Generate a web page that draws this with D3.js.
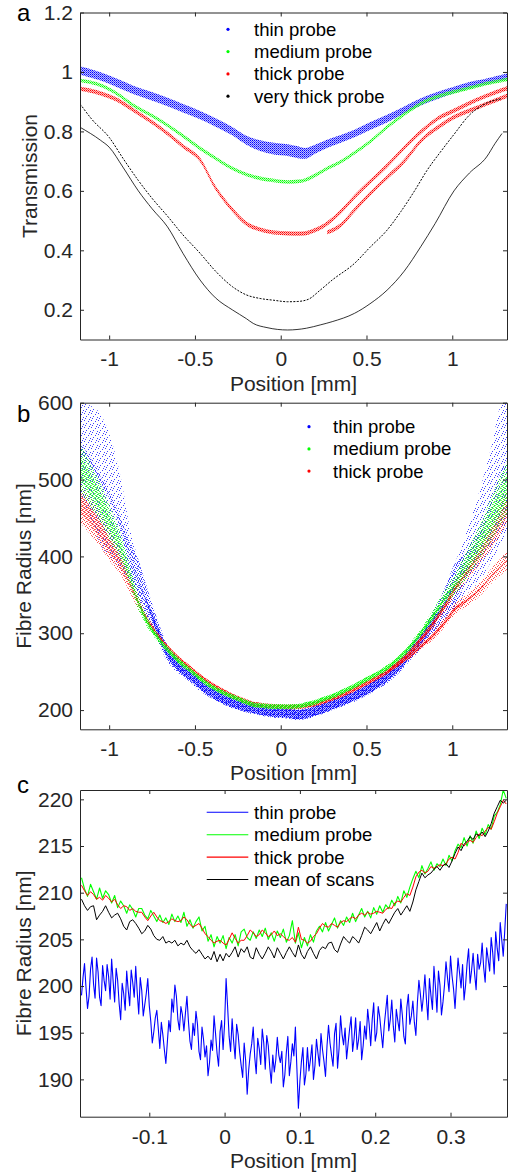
<!DOCTYPE html>
<html><head><meta charset="utf-8">
<script src="https://cdn.jsdelivr.net/npm/d3@7"></script>
<style>body{margin:0;background:#fff}svg{display:block}</style>
</head><body><svg id="c" width="508" height="1173"></svg>
<script>
// ---------------- DATA ----------------
// Panel a: Transmission vs position (mm)
const posA = [-1.17,-1.05,-0.95,-0.86,-0.76,-0.66,-0.57,-0.47,-0.38,-0.28,
  -0.2,-0.12,-0.04,0.04,0.1,0.14,0.2,0.27,0.35,0.43,
  0.52,0.62,0.72,0.82,0.92,1.01,1.1,1.2,1.32];
const thinA = [1.005,0.985,0.962,0.94,0.92,0.899,0.878,0.855,0.83,0.80,
  0.77,0.752,0.742,0.737,0.73,0.726,0.74,0.758,0.775,0.793,
  0.818,0.843,0.872,0.9,0.922,0.939,0.955,0.968,0.985];
const thinSpreadA = [0.014,0.014,0.014,0.014,0.014,0.014,0.014,0.014,0.014,0.014,
  0.015,0.018,0.02,0.02,0.02,0.018,0.015,0.014,0.013,0.013,
  0.013,0.013,0.012,0.012,0.012,0.011,0.011,0.01,0.01];
const mediumA = [0.972,0.955,0.925,0.888,0.856,0.821,0.785,0.743,0.71,0.675,
  0.655,0.642,0.635,0.63,0.632,0.636,0.652,0.675,0.698,0.728,
  0.765,0.815,0.858,0.895,0.918,0.933,0.946,0.961,0.975];
const mediumSpreadA = 0.006;
const thickA1 = [0.944,0.928,0.905,0.872,0.835,0.793,0.75,0.704,0.61,0.535,
  0.49,0.47,0.46,0.457,0.456,0.457,0.468,0.49,0.53,0.58,
  0.63,0.685,0.745,0.8,0.845,0.87,0.895,0.92,0.945];
const thickA2 = [null,null,null,null,null,null,null,null,null,null,
  null,null,null,null,null,null,null,0.46,0.485,0.535,
  0.59,0.645,0.70,0.77,0.815,0.848,0.87,0.893,0.92];
const thickSpreadA = 0.007;
const vThickPos1 = [-1.17,-1.1,-1.0,-0.92,-0.83,-0.75,-0.66,-0.57,-0.47,-0.38,
  -0.28,-0.2,-0.12,-0.04,0.04,0.1,0.16,0.23,0.3,0.43,
  0.52,0.62,0.7,0.78,0.854,0.93,1.01,1.1,1.2,1.29];
const vThickA1 = [0.893,0.84,0.78,0.71,0.635,0.575,0.515,0.452,0.39,0.33,
  0.277,0.25,0.238,0.232,0.227,0.228,0.235,0.266,0.3,0.356,
  0.41,0.468,0.53,0.6,0.67,0.73,0.79,0.855,0.895,0.91];
const vThickPos2 = [-1.17,-1.05,-1.0,-0.92,-0.83,-0.75,-0.66,-0.57,-0.47,-0.38,
  -0.28,-0.2,-0.16,-0.08,0.04,0.15,0.23,0.3,0.43,0.52,
  0.62,0.72,0.816,0.9,1.01,1.1,1.2,1.25,1.29];
const vThickA2 = [0.814,0.77,0.747,0.68,0.6,0.54,0.479,0.39,0.3,0.24,
  0.199,0.17,0.154,0.14,0.132,0.138,0.149,0.16,0.188,0.22,
  0.266,0.33,0.412,0.49,0.6,0.66,0.714,0.76,0.793];
const legendA = ["thin probe","medium probe","thick probe","very thick probe"];
const xTicksAB = [-1,-0.5,0,0.5,1];
const xTickLabelsAB = ["-1","-0.5","0","0.5","1"];
const yTicksA = [0.2,0.4,0.6,0.8,1,1.2];
const yTickLabelsA = ["0.2","0.4","0.6","0.8","1","1.2"];

// Panel b: Fibre radius (nm) vs position (mm)
const posB = [-1.17,-1.1,-1.05,-1.0,-0.93,-0.88,-0.83,-0.78,-0.72,-0.665,
  -0.6,-0.53,-0.47,-0.4,-0.33,-0.276,-0.2,-0.16,-0.1,-0.04,
  0.04,0.1,0.14,0.2,0.233,0.3,0.36,0.427,0.5,0.56,
  0.62,0.7,0.76,0.816,0.88,0.94,0.97,1.01,1.08,1.165,
  1.23,1.28,1.32];
const thinB = [540,520,500,480,440,400,368,340,305,276,
  258,245,233,222,214,209,204,202,199,197,
  196,194,195,199,201,207,212,218,226,234,
  244,260,276,291,312,332,345,360,390,430,
  470,505,520];
const thinSpreadB = [60,75,85,80,60,38,28,20,14,11,
  9,8,8,7,7,7,7,7,7,7,
  7,7,7,7,7,7,7,7,7,8,
  9,9,10,12,14,18,22,28,40,60,
  75,90,85];
const mediumB = [516,490,470,445,410,375,340,315,295,280,
  265,252,241,230,222,217,210,207,205.5,204.5,
  204.4,205,207,210,213,218,224,231,240,247,
  255,270,284,300,320,340,350,362,388,421,
  450,473,490];
const mediumSpreadB = [30,28,25,22,18,14,10,7,5,4,
  4,3,3,3,3,3,3,3,3,3,
  3,3,3,3,3,3,3,3,3,3,
  4,4,5,6,8,10,11,13,17,22,
  28,32,35];
const thickB1 = [469,450,434,415,391,365,340,318,298,283,
  268,255,244,233,224,218,211,208,206,205,
  204,204.5,205.5,208,210,215,220,227,235,242,
  250,264,277,292,310,330,340,356,378,405,
  428,448,465];
const thickSpreadB1 = [25,24,22,20,16,12,9,6,4,3,
  3,3,3,3,3,3,3,3,3,3,
  3,3,3,3,3,3,3,3,3,3,
  3,4,4,5,6,7,8,9,11,14,
  17,20,22];
const thickB2 = [null,null,null,null,null,null,null,null,null,null,
  null,null,null,null,null,null,null,null,null,null,
  null,null,null,null,null,null,null,null,null,null,
  250,262,272,283,295,310,318,330,342,358,
  375,386,395];
const thickSpreadB2 = [0,0,0,0,0,0,0,0,0,0,
  0,0,0,0,0,0,0,0,0,0,
  0,0,0,0,0,0,0,0,0,0,
  3,3,4,4,5,6,6,7,8,9,
  10,11,12];
const legendB = ["thin probe","medium probe","thick probe"];
const yTicksB = [200,300,400,500,600];
const yTickLabelsB = ["200","300","400","500","600"];

// Panel c: zoomed fibre radius (nm)
const posCFine = [-0.190,-0.188,-0.186,-0.184,-0.182,-0.180,-0.178,-0.176,-0.174,-0.172,-0.170,-0.168,-0.166,-0.164,-0.162,-0.160,-0.158,-0.156,-0.154,-0.152,
  -0.150,-0.148,-0.146,-0.144,-0.142,-0.140,-0.138,-0.136,-0.134,-0.132,-0.130,-0.128,-0.126,-0.124,-0.122,-0.120,-0.118,-0.116,-0.114,-0.112,
  -0.110,-0.108,-0.106,-0.104,-0.102,-0.100,-0.098,-0.096,-0.094,-0.092,-0.090,-0.088,-0.086,-0.084,-0.082,-0.080,-0.078,-0.076,-0.074,-0.072,
  -0.070,-0.068,-0.066,-0.064,-0.062,-0.060,-0.058,-0.056,-0.054,-0.052,-0.050,-0.048,-0.046,-0.044,-0.042,-0.040,-0.038,-0.036,-0.034,-0.032,
  -0.030,-0.028,-0.026,-0.024,-0.022,-0.020,-0.018,-0.016,-0.014,-0.012,-0.010,-0.008,-0.006,-0.004,-0.002,0.000,0.002,0.004,0.006,0.008,
  0.010,0.012,0.014,0.016,0.018,0.020,0.022,0.024,0.026,0.028,0.030,0.032,0.034,0.036,0.038,0.040,0.042,0.044,0.046,0.048,
  0.050,0.052,0.054,0.056,0.058,0.060,0.062,0.064,0.066,0.068,0.070,0.072,0.074,0.076,0.078,0.080,0.082,0.084,0.086,0.088,
  0.090,0.092,0.094,0.096,0.098,0.100,0.102,0.104,0.106,0.108,0.110,0.112,0.114,0.116,0.118,0.120,0.122,0.124,0.126,0.128,
  0.130,0.132,0.134,0.136,0.138,0.140,0.142,0.144,0.146,0.148,0.150,0.152,0.154,0.156,0.158,0.160,0.162,0.164,0.166,0.168,
  0.170,0.172,0.174,0.176,0.178,0.180,0.182,0.184,0.186,0.188,0.190,0.192,0.194,0.196,0.198,0.200,0.202,0.204,0.206,0.208,
  0.210,0.212,0.214,0.216,0.218,0.220,0.222,0.224,0.226,0.228,0.230,0.232,0.234,0.236,0.238,0.240,0.242,0.244,0.246,0.248,
  0.250,0.252,0.254,0.256,0.258,0.260,0.262,0.264,0.266,0.268,0.270,0.272,0.274,0.276,0.278,0.280,0.282,0.284,0.286,0.288,
  0.290,0.292,0.294,0.296,0.298,0.300,0.302,0.304,0.306,0.308,0.310,0.312,0.314,0.316,0.318,0.320,0.322,0.324,0.326,0.328,
  0.330,0.332,0.334,0.336,0.338,0.340,0.342,0.344,0.346,0.348,0.350,0.352,0.354,0.356,0.358,0.360,0.362,0.364,0.366,0.368,
  0.370,0.372,0.374];
const thinC = [199.0,200.9,202.4,199.8,197.6,198.9,201.8,203.1,200.2,198.7,203.0,201.5,198.8,197.9,202.2,200.6,199.5,202.3,201.0,198.6,
  202.9,200.5,198.3,201.9,200.6,198.1,196.4,200.3,199.2,197.4,201.6,199.6,197.9,201.7,200.4,198.8,202.1,199.3,197.0,200.9,
  199.5,196.8,198.0,199.2,200.8,197.9,196.2,193.9,195.1,196.6,197.4,195.4,193.3,196.1,194.8,193.2,191.7,194.0,196.3,195.1,
  198.6,197.2,200.1,198.9,196.4,195.3,197.8,196.9,195.2,197.1,198.9,196.2,194.1,193.2,196.0,194.7,197.3,195.9,193.0,192.1,
  195.6,194.3,192.4,193.6,190.4,191.8,194.2,193.1,196.8,194.9,192.8,191.4,195.1,196.3,193.2,196.0,200.8,197.8,194.6,193.0,
  196.5,194.1,192.2,195.9,194.8,192.9,191.5,190.2,193.9,192.0,188.4,191.0,192.7,193.8,195.6,192.4,190.6,194.4,193.3,191.6,
  195.4,193.9,191.1,194.7,193.6,191.3,189.6,192.6,190.8,192.1,194.5,192.6,191.8,193.0,189.2,190.5,192.9,194.6,190.4,191.9,
  193.8,192.5,195.6,191.2,186.9,189.8,191.9,193.4,189.4,190.6,193.4,190.9,192.1,193.7,190.0,191.5,194.3,192.8,191.4,194.9,
  193.2,191.9,190.3,193.6,195.8,193.9,192.6,191.4,194.9,196.0,191.2,193.3,196.8,194.8,193.7,195.5,192.2,193.8,195.4,196.7,
  193.0,194.4,196.6,193.2,194.3,196.2,192.1,193.6,195.7,194.3,197.5,195.9,193.6,196.4,198.2,194.1,195.0,197.8,196.7,195.0,
  193.4,195.8,197.4,199.0,195.2,196.4,198.5,195.7,194.0,197.5,196.3,195.2,198.6,196.9,194.6,193.8,197.7,199.1,195.9,196.8,
  198.4,196.1,194.7,198.2,200.6,199.1,197.3,198.9,201.2,198.6,196.4,200.8,199.0,197.5,202.1,199.9,197.2,201.6,200.1,196.9,
  198.3,200.1,202.6,200.9,199.4,203.2,201.1,199.7,197.6,200.4,203.0,201.4,199.8,202.3,198.5,200.1,202.4,204.0,200.3,201.7,
  203.5,201.3,199.6,203.4,201.8,202.5,204.6,202.0,200.4,204.1,202.9,201.6,205.2,203.6,201.3,205.8,204.0,202.7,206.8,205.0,
  203.2,205.9,208.8];
const posC = [-0.190,-0.186,-0.182,-0.178,-0.174,-0.170,-0.166,-0.162,-0.158,-0.154,
  -0.150,-0.146,-0.142,-0.138,-0.134,-0.130,-0.126,-0.122,-0.118,-0.114,
  -0.110,-0.106,-0.102,-0.098,-0.094,-0.090,-0.086,-0.082,-0.078,-0.074,
  -0.070,-0.066,-0.062,-0.058,-0.054,-0.050,-0.046,-0.042,-0.038,-0.034,
  -0.030,-0.026,-0.022,-0.018,-0.014,-0.010,-0.006,-0.002,0.002,0.006,
  0.010,0.014,0.018,0.022,0.026,0.030,0.034,0.038,0.042,0.046,
  0.050,0.054,0.058,0.062,0.066,0.070,0.074,0.078,0.082,0.086,
  0.090,0.094,0.098,0.102,0.106,0.110,0.114,0.118,0.122,0.126,
  0.130,0.134,0.138,0.142,0.146,0.150,0.154,0.158,0.162,0.166,
  0.170,0.174,0.178,0.182,0.186,0.190,0.194,0.198,0.202,0.206,
  0.210,0.214,0.218,0.222,0.226,0.230,0.234,0.238,0.242,0.246,
  0.250,0.254,0.258,0.262,0.266,0.270,0.274,0.278,0.282,0.286,
  0.290,0.294,0.298,0.302,0.306,0.310,0.314,0.318,0.322,0.326,
  0.330,0.334,0.338,0.342,0.346,0.350,0.354,0.358,0.362,0.366,
  0.370,0.374];
const mediumC = [211.6,210.4,209.6,210.9,210.1,209.3,210.5,209.4,210.2,209.8,
  208.9,209.7,208.4,209.1,208.6,207.8,208.7,208.2,207.4,208.3,
  208.3,207.6,207.2,208.1,207.5,206.9,207.6,206.8,207.3,206.6,
  207.7,206.9,207.5,206.8,207.9,206.4,207.1,206.2,206.9,207.4,
  205.9,206.4,204.8,205.5,204.2,205.3,204.6,205.4,204.0,205.2,
  204.6,205.5,204.3,205.8,206.1,205.2,204.9,205.8,205.1,206.0,
  205.3,206.2,205.0,205.7,204.8,205.9,205.2,206.1,204.7,205.4,
  207.0,204.6,205.7,204.1,205.2,204.3,205.5,204.7,205.9,206.4,
  205.8,206.8,205.9,206.6,207.3,206.2,207.0,206.5,207.4,206.8,
  207.8,206.9,207.6,208.3,207.4,208.0,207.3,208.4,207.7,208.6,
  207.9,208.7,208.3,209.2,208.6,209.6,208.9,210.2,209.5,210.6,
  211.5,212.3,211.6,212.9,212.0,212.6,213.3,212.4,213.1,212.8,
  213.6,212.9,214.0,213.4,214.5,215.2,214.8,215.9,215.0,216.1,
  215.3,216.6,215.8,216.9,216.2,217.3,216.8,218.2,218.6,219.4,
  221.0,220.1];
const thickC = [210.8,210.2,209.7,210.1,209.8,209.3,209.5,209.2,209.7,209.4,
  209.0,209.3,208.7,208.3,208.6,208.5,208.1,208.3,208.0,207.9,
  207.9,207.4,207.0,207.5,207.9,207.4,207.0,206.9,206.7,206.9,
  207.2,207.0,206.9,207.0,207.4,207.1,206.6,206.3,206.5,206.7,
  206.2,205.6,205.3,204.9,204.6,204.8,204.9,204.6,204.4,205.0,
  205.7,205.1,204.6,204.9,204.9,205.4,206.0,205.7,205.3,205.5,
  206.0,205.7,205.3,205.5,205.9,205.4,205.6,205.3,205.0,204.9,
  205.2,204.7,206.3,205.0,204.9,204.6,204.8,205.3,205.6,206.2,
  206.7,206.4,206.3,206.7,206.5,206.3,206.8,207.0,206.9,207.2,
  207.4,207.2,207.6,207.8,207.6,207.9,207.7,207.8,208.0,207.9,
  207.8,208.2,208.4,208.3,208.9,209.1,209.0,209.5,209.9,209.7,
  210.6,211.7,212.2,212.4,212.1,212.3,212.8,212.6,212.8,213.0,
  212.9,213.1,213.6,213.8,213.6,214.3,215.3,215.0,215.4,215.6,
  215.4,215.9,216.3,216.1,216.6,217.0,216.8,217.6,218.5,219.2,
  219.9,219.5];
const meanC = [209.3,208.6,208.1,208.5,208.6,207.1,207.6,208.0,208.6,207.9,
  207.3,207.6,207.8,207.2,206.4,206.0,206.9,207.1,206.7,206.2,
  205.6,205.9,206.5,206.1,205.4,205.0,204.9,205.3,204.6,204.8,
  204.6,204.9,204.3,204.6,204.4,204.9,204.2,203.8,203.5,203.9,
  203.4,202.9,203.2,202.8,203.7,202.6,203.4,202.7,203.5,203.1,
  203.6,204.2,203.1,204.0,203.6,204.2,203.1,202.9,204.1,203.4,
  202.9,203.5,204.2,203.7,203.0,204.1,203.5,202.9,203.6,204.2,
  203.6,203.1,204.4,203.4,202.9,203.7,204.2,203.5,202.9,203.8,
  204.2,204.0,204.6,204.7,203.9,203.6,204.5,205.3,204.9,204.6,
  205.3,205.0,204.6,205.4,206.3,206.0,205.6,206.2,206.8,205.9,
  206.6,207.2,206.7,207.3,207.9,208.3,207.6,208.1,208.6,208.0,
  209.0,210.3,211.2,212.1,211.6,211.9,212.1,212.5,212.8,212.4,
  212.9,213.1,212.7,213.4,214.2,214.9,214.5,215.2,215.5,216.0,
  215.7,216.3,216.1,216.5,216.0,216.6,217.4,218.5,219.2,219.9,
  219.6,219.9];
const legendC = ["thin probe","medium probe","thick probe","mean of scans"];
const xTicksC = [-0.1,0,0.1,0.2,0.3];
const xTickLabelsC = ["-0.1","0","0.1","0.2","0.3"];
const yTicksC = [190,195,200,205,210,215,220];
const yTickLabelsC = ["190","195","200","205","210","215","220"];

// ---------------- STYLE ----------------
const FONT = '"Liberation Sans", Arial, Helvetica, sans-serif';
const AX = "#262626";
const TICK_FS = 21, LABEL_FS = 21, LEG_FS = 18.5;
const COL = {blue:"#0000ff", green:"#00ff00", red:"#ff0000", black:"#000000"};
const svg = d3.select("#c").style("font-family", FONT);

const defs = svg.append("defs");
function dotPattern(id, size, dots, c, op) {
  const p = defs.append("pattern").attr("id", id).attr("width", size).attr("height", size)
    .attr("patternUnits","userSpaceOnUse");
  dots.forEach(([x,y]) => p.append("rect").attr("x",x).attr("y",y).attr("width",1).attr("height",1)
    .attr("fill",c).attr("opacity",op));
  return p;
}
Object.entries(COL).forEach(([k,c]) => {
  const d = defs.append("pattern").attr("id","dense-"+k).attr("width",2).attr("height",2)
    .attr("patternUnits","userSpaceOnUse");
  d.append("rect").attr("width",2).attr("height",2).attr("fill",c).attr("opacity",0.25);
  d.append("rect").attr("width",1).attr("height",1).attr("fill",c);
  d.append("rect").attr("x",1).attr("y",1).attr("width",1).attr("height",1).attr("fill",c).attr("opacity",0.6);
  dotPattern("mid-"+k, 4, [[0,0],[2,1],[1,2],[3,3]], c, 0.7);
  dotPattern("mid2-"+k, 4, [[1,0],[3,1],[0,3],[2,2]], c, 0.6);
  dotPattern("sparse-"+k, 7, [[0,0],[4,1],[2,3],[6,4],[1,5],[5,6]], c, 0.75);
});

function makePanel(id, box, xDom, yDom, xt, xtl, yt, ytl, yLabel, yLabelX, letter, letterY) {
  const x = d3.scaleLinear().domain(xDom).range([box.l, box.r]);
  const y = d3.scaleLinear().domain(yDom).range([box.b, box.t]);
  defs.append("clipPath").attr("id","clip-"+id).append("rect")
    .attr("x",box.l).attr("y",box.t).attr("width",box.r-box.l).attr("height",box.b-box.t);
  const g = svg.append("g");
  const plot = g.append("g").attr("clip-path",`url(#clip-${id})`);
  const axes = g.append("g");
  const style = sel => {
    sel.selectAll("path,line").attr("stroke",AX).attr("stroke-width",1);
    sel.selectAll("text").attr("fill",AX).attr("font-size",TICK_FS).attr("font-family",FONT);
  };
  axes.append("g").attr("transform",`translate(0,${box.b})`)
    .call(d3.axisBottom(x).tickValues(xt).tickFormat((d,i)=>xtl[i]).tickSize(-4).tickSizeOuter(0).tickPadding(12)).call(style);
  axes.append("g").attr("transform",`translate(0,${box.t})`)
    .call(d3.axisTop(x).tickValues(xt).tickFormat("").tickSize(-4).tickSizeOuter(0)).call(style);
  axes.append("g").attr("transform",`translate(${box.l},0)`)
    .call(d3.axisLeft(y).tickValues(yt).tickFormat((d,i)=>ytl[i]).tickSize(-4).tickSizeOuter(0).tickPadding(7)).call(style);
  axes.append("g").attr("transform",`translate(${box.r},0)`)
    .call(d3.axisRight(y).tickValues(yt).tickFormat("").tickSize(-4).tickSizeOuter(0)).call(style);
  axes.append("text").attr("x",(box.l+box.r)/2).attr("y",box.b+51).attr("text-anchor","middle")
    .attr("font-size",LABEL_FS).attr("fill",AX).text("Position [mm]");
  axes.append("text").attr("transform",`translate(${yLabelX},${(box.t+box.b)/2}) rotate(-90)`)
    .attr("text-anchor","middle").attr("font-size",LABEL_FS).attr("fill",AX).text(yLabel);
  axes.append("text").attr("x",17).attr("y",letterY).attr("font-size",24).attr("fill","#000").text(letter);
  return {x, y, plot, g};
}

// band: area mid ± half-width; frac scales the spread, cap limits it, taper thins it where the spread is wide
function band(P, pos, mid, spread, color, kind, opts = {}) {
  const {frac = 1, cap = null, taper = null} = opts;
  const data = pos.map((p,i) => ({p, m: mid[i], h: Array.isArray(spread) ? spread[i] : spread}));
  const hh = d => {
    let h = d.h * frac;
    if (cap != null) h = Math.min(h, cap);
    if (taper != null && d.h > taper) h *= Math.pow(taper / d.h, 3);
    return h;
  };
  const area = d3.area().defined(d => d.m != null)
    .x(d => P.x(d.p)).y0(d => P.y(d.m - hh(d))).y1(d => P.y(d.m + hh(d)))
    .curve(d3.curveMonotoneX);
  P.plot.append("path").datum(data).attr("d", area).attr("fill", `url(#${kind}-${color})`);
}

function curve(P, pos, vals, color, width, dash, curveType) {
  const data = pos.map((p,i) => ({p, v: vals[i]}));
  const line = d3.line().defined(d => d.v != null).x(d => P.x(d.p)).y(d => P.y(d.v))
    .curve(curveType || d3.curveLinear);
  const path = P.plot.append("path").datum(data).attr("d", line).attr("fill","none")
    .attr("stroke", color).attr("stroke-width", width).attr("stroke-linejoin","round");
  if (dash) path.attr("stroke-dasharray", dash);
}

// ---------------- PANEL A ----------------
const A = makePanel("a", {l:80, r:507, t:12.5, b:339.5}, [-1.17,1.319], [0.1,1.2],
  xTicksAB, xTickLabelsAB, yTicksA, yTickLabelsA, "Transmission", 37, "a", 21);
band(A, posA, thinA, thinSpreadA, "blue", "dense");
band(A, posA, mediumA, mediumSpreadA, "green", "dense");
band(A, posA, thickA1, thickSpreadA, "red", "dense");
band(A, posA, thickA2, thickSpreadA, "red", "dense");
curve(A, vThickPos1, vThickA1, "#000", 1, "2 1.4", d3.curveMonotoneX);
curve(A, vThickPos2, vThickA2, "#000", 0.8, null, d3.curveMonotoneX);

const legA = A.g.append("g");
legendA.forEach((t,i) => {
  const cy = 29.3 + i*22.3;
  legA.append("circle").attr("cx",228).attr("cy",cy).attr("r",1.6)
    .attr("fill",[COL.blue,COL.green,COL.red,COL.black][i]);
  legA.append("text").attr("x",254).attr("y",cy).attr("dy","0.35em")
    .attr("font-size",LEG_FS).attr("fill","#000").text(t);
});

// ---------------- PANEL B ----------------
const B = makePanel("b", {l:80, r:507, t:402.7, b:729.3}, [-1.17,1.319], [175,600],
  xTicksAB, xTickLabelsAB, yTicksB, yTickLabelsB, "Fibre Radius [nm]", 31, "b", 422);
band(B, posB, thinB, thinSpreadB, "blue", "sparse");
band(B, posB, thinB, thinSpreadB, "blue", "mid", {taper: 30});
band(B, posB, thinB, thinSpreadB, "blue", "dense", {cap: 6, taper: 14});
band(B, posB, thickB2, thickSpreadB2, "red", "mid");
band(B, posB, thickB2, thickSpreadB2, "red", "dense", {cap: 2.5, taper: 7});
band(B, posB, thickB1, thickSpreadB1, "red", "mid");
band(B, posB, thickB1, thickSpreadB1, "red", "mid2", {frac: 0.5});
band(B, posB, thickB1, thickSpreadB1, "red", "dense", {cap: 3, taper: 8});
band(B, posB, mediumB, mediumSpreadB, "green", "mid");
band(B, posB, mediumB, mediumSpreadB, "green", "mid2", {frac: 0.5});
band(B, posB, mediumB, mediumSpreadB, "green", "dense", {cap: 3, taper: 8});

const legB = B.g.append("g");
legendB.forEach((t,i) => {
  const cy = 426.7 + i*22.2;
  legB.append("circle").attr("cx",309).attr("cy",cy).attr("r",1.6)
    .attr("fill",[COL.blue,COL.green,COL.red][i]);
  legB.append("text").attr("x",333).attr("y",cy).attr("dy","0.35em")
    .attr("font-size",LEG_FS).attr("fill","#000").text(t);
});

// ---------------- PANEL C ----------------
const C = makePanel("c", {l:80, r:507, t:790, b:1116.7}, [-0.192,0.375], [186,221],
  xTicksC, xTickLabelsC, yTicksC, yTickLabelsC, "Fibre Radius [nm]", 31, "c", 793);
curve(C, posCFine, thinC, COL.blue, 1.1);
curve(C, posC, mediumC, COL.green, 1.1);
curve(C, posC, thickC, COL.red, 1);
curve(C, posC, meanC, COL.black, 1);

const legC = C.g.append("g");
legendC.forEach((t,i) => {
  const cy = 812.3 + i*22.4;
  legC.append("line").attr("x1",206.7).attr("x2",248.3).attr("y1",cy).attr("y2",cy)
    .attr("stroke",[COL.blue,COL.green,COL.red,COL.black][i]).attr("stroke-width",1.1);
  legC.append("text").attr("x",254).attr("y",cy).attr("dy","0.35em")
    .attr("font-size",LEG_FS).attr("fill","#000").text(t);
});
</script>
</body></html>
